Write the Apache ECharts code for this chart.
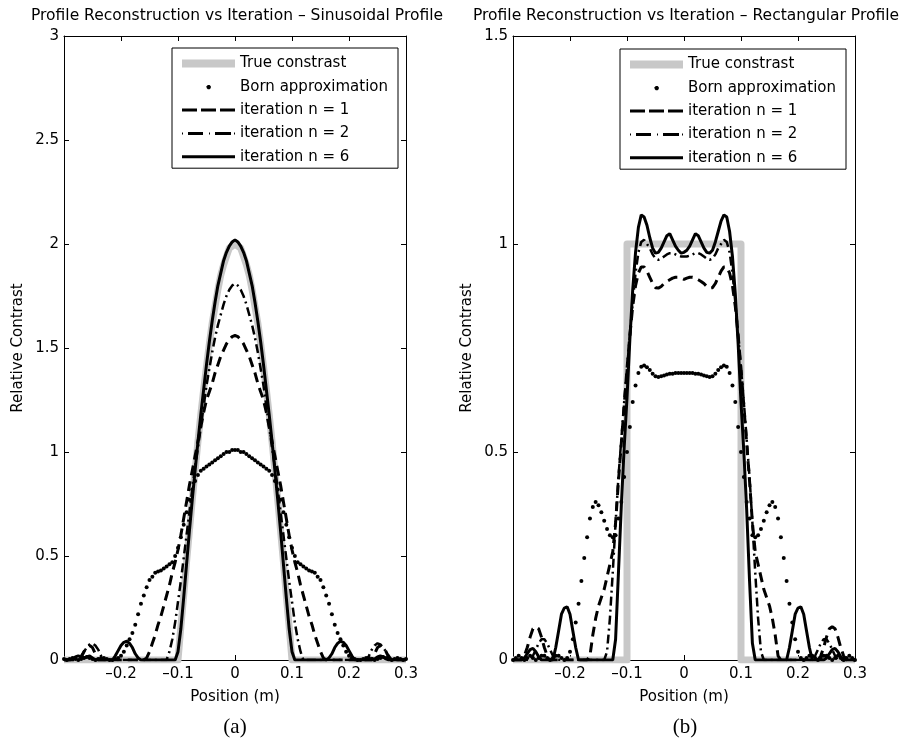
<!DOCTYPE html>
<html>
<head>
<meta charset="utf-8">
<title>Profile Reconstruction vs Iteration</title>
<script src="https://cdn.jsdelivr.net/npm/echarts@6/dist/echarts.min.js"></script>
<style>
  html, body { margin: 0; padding: 0; background: #fff; }
  #chart { width: 912px; height: 748px; }
</style>
</head>
<body>
<div id="chart"></div>
<script>
// sample positions (m): -0.3 ... 0.3, step 0.005
const xPos = Array.from({ length: 121 }, (_, i) => Math.round((-0.3 + i * 0.005) * 1000) / 1000);

// ---- (a) sinusoidal profile ----
const sinTrue = [
  0, 0, 0, 0, 0, 0, 0, 0, 0, 0,
  0, 0, 0, 0, 0, 0, 0, 0, 0, 0,
  0, 0, 0, 0, 0, 0, 0, 0, 0, 0,
  0, 0, 0, 0, 0, 0, 0, 0, 0, 0,
  0, 0.16, 0.31, 0.47, 0.62, 0.77, 0.91, 1.05, 1.18, 1.30,
  1.41, 1.52, 1.62, 1.70, 1.78, 1.85, 1.90, 1.94, 1.98, 1.99,
  2.00, 1.99, 1.98, 1.94, 1.90, 1.85, 1.78, 1.70, 1.62, 1.52,
  1.41, 1.30, 1.18, 1.05, 0.91, 0.77, 0.62, 0.47, 0.31, 0.16,
  0, 0, 0, 0, 0, 0, 0, 0, 0, 0,
  0, 0, 0, 0, 0, 0, 0, 0, 0, 0,
  0, 0, 0, 0, 0, 0, 0, 0, 0, 0,
  0, 0, 0, 0, 0, 0, 0, 0, 0, 0,
  0
];
const sinBorn = [
  0.005, 0, 0.005, 0.01, 0.005, 0, 0.005, 0.01, 0.015, 0.01,
  0.005, 0, 0.005, 0.01, 0.01, 0.005, 0, 0, 0.005, 0.01,
  0.02, 0.04, 0.07, 0.10, 0.13, 0.17, 0.22, 0.27, 0.31, 0.35,
  0.385, 0.40, 0.42, 0.425, 0.43, 0.44, 0.45, 0.46, 0.47, 0.50,
  0.54, 0.59, 0.65, 0.71, 0.77, 0.82, 0.86, 0.89, 0.91, 0.92,
  0.93, 0.94, 0.95, 0.96, 0.97, 0.98, 0.99, 1.00, 1.00, 1.01,
  1.01, 1.01, 1.00, 1.00, 0.99, 0.98, 0.97, 0.96, 0.95, 0.94,
  0.93, 0.92, 0.91, 0.89, 0.86, 0.82, 0.77, 0.71, 0.65, 0.59,
  0.54, 0.50, 0.47, 0.46, 0.45, 0.44, 0.43, 0.425, 0.42, 0.40,
  0.385, 0.35, 0.31, 0.27, 0.22, 0.17, 0.13, 0.10, 0.07, 0.04,
  0.02, 0.01, 0.005, 0, 0, 0.005, 0.01, 0.01, 0.005, 0,
  0.005, 0.01, 0.015, 0.01, 0.005, 0, 0.005, 0.01, 0.005, 0,
  0.005
];
const sinIter1 = [
  0, 0, 0, 0, 0, 0, 0.01, 0.04, 0.06, 0.07,
  0.06, 0.03, 0, 0, 0, 0, 0, 0, 0, 0,
  0, 0, 0, 0, 0, 0, 0, 0, 0, 0.01,
  0.04, 0.08, 0.12, 0.17, 0.21, 0.26, 0.31, 0.36, 0.42, 0.47,
  0.53, 0.60, 0.68, 0.76, 0.84, 0.91, 0.98, 1.05, 1.12, 1.19,
  1.25, 1.29, 1.33, 1.38, 1.42, 1.46, 1.49, 1.52, 1.54, 1.555,
  1.56, 1.555, 1.54, 1.52, 1.49, 1.46, 1.42, 1.38, 1.33, 1.29,
  1.25, 1.19, 1.12, 1.05, 0.98, 0.91, 0.84, 0.76, 0.68, 0.60,
  0.53, 0.47, 0.42, 0.36, 0.31, 0.26, 0.21, 0.17, 0.12, 0.08,
  0.04, 0.01, 0, 0, 0, 0, 0, 0, 0, 0,
  0, 0, 0, 0, 0, 0, 0, 0, 0, 0.03,
  0.06, 0.07, 0.06, 0.04, 0.01, 0, 0, 0, 0, 0,
  0
];
const sinIter2 = [
  0, 0, 0, 0, 0, 0, 0.02, 0.04, 0.06, 0.075,
  0.08, 0.07, 0.05, 0.02, 0, 0, 0, 0, 0, 0,
  0, 0, 0, 0, 0, 0, 0, 0, 0, 0,
  0, 0, 0, 0, 0, 0, 0, 0.04, 0.10, 0.18,
  0.28, 0.38, 0.49, 0.60, 0.71, 0.82, 0.93, 1.02, 1.12, 1.22,
  1.32, 1.40, 1.48, 1.55, 1.61, 1.66, 1.71, 1.75, 1.78, 1.80,
  1.81, 1.80, 1.78, 1.75, 1.71, 1.66, 1.61, 1.55, 1.48, 1.40,
  1.32, 1.22, 1.12, 1.02, 0.93, 0.82, 0.71, 0.60, 0.49, 0.38,
  0.28, 0.18, 0.10, 0.04, 0, 0, 0, 0, 0, 0,
  0, 0, 0, 0, 0, 0, 0, 0, 0, 0,
  0, 0, 0, 0, 0, 0, 0, 0.02, 0.05, 0.07,
  0.08, 0.075, 0.06, 0.04, 0.02, 0, 0, 0, 0, 0,
  0
];
const sinIter6 = [
  0, 0, 0, 0.005, 0.015, 0.02, 0.015, 0.01, 0.015, 0.02,
  0.01, 0, 0, 0, 0, 0, 0, 0, 0.02, 0.045,
  0.07, 0.085, 0.09, 0.08, 0.06, 0.03, 0.01, 0, 0, 0,
  0, 0, 0, 0, 0, 0, 0, 0, 0, 0,
  0.04, 0.15, 0.30, 0.46, 0.62, 0.77, 0.91, 1.05, 1.18, 1.30,
  1.42, 1.53, 1.63, 1.72, 1.80, 1.86, 1.92, 1.96, 1.99, 2.01,
  2.02, 2.01, 1.99, 1.96, 1.92, 1.86, 1.80, 1.72, 1.63, 1.53,
  1.42, 1.30, 1.18, 1.05, 0.91, 0.77, 0.62, 0.46, 0.30, 0.15,
  0.04, 0, 0, 0, 0, 0, 0, 0, 0, 0,
  0, 0, 0, 0.01, 0.03, 0.06, 0.08, 0.09, 0.085, 0.07,
  0.045, 0.02, 0, 0, 0, 0, 0, 0, 0, 0.005,
  0.015, 0.02, 0.015, 0.005, 0, 0, 0, 0, 0, 0,
  0
];

// ---- (b) rectangular profile ----
const rectTrueX = [-0.3, -0.1, -0.1, 0.1, 0.1, 0.3];
const rectTrueY = [0, 0, 1, 1, 0, 0];
const rectBorn = [
  0, 0.005, 0.01, 0.005, 0, 0.005, 0.01, 0.005, 0, 0.005,
  0.01, 0.01, 0.005, 0, 0.005, 0.01, 0.01, 0.005, 0, 0.005,
  0.02, 0.05, 0.09, 0.135, 0.19, 0.245, 0.295, 0.34, 0.368, 0.38,
  0.372, 0.355, 0.335, 0.315, 0.30, 0.295, 0.30, 0.34, 0.38, 0.44,
  0.50, 0.56, 0.62, 0.66, 0.69, 0.705, 0.708, 0.704, 0.697, 0.688,
  0.682, 0.68, 0.682, 0.684, 0.686, 0.688, 0.688, 0.69, 0.69, 0.69,
  0.69, 0.69, 0.69, 0.69, 0.688, 0.688, 0.686, 0.684, 0.682, 0.68,
  0.682, 0.688, 0.697, 0.704, 0.708, 0.705, 0.69, 0.66, 0.62, 0.56,
  0.50, 0.44, 0.38, 0.34, 0.30, 0.295, 0.30, 0.315, 0.335, 0.355,
  0.372, 0.38, 0.368, 0.34, 0.295, 0.245, 0.19, 0.135, 0.09, 0.05,
  0.02, 0.005, 0, 0.005, 0.01, 0.01, 0.005, 0, 0.005, 0.01,
  0.01, 0.005, 0, 0.005, 0.01, 0.005, 0, 0.005, 0.01, 0.005,
  0
];
const rectIter1 = [
  0, 0, 0, 0, 0.01, 0.03, 0.055, 0.075, 0.08, 0.075,
  0.055, 0.03, 0.01, 0, 0, 0, 0, 0, 0, 0,
  0, 0, 0, 0, 0, 0, 0, 0.01, 0.06, 0.10,
  0.13, 0.15, 0.17, 0.20, 0.23, 0.26, 0.33, 0.43, 0.52, 0.61,
  0.70, 0.78, 0.85, 0.90, 0.93, 0.945, 0.945, 0.935, 0.92, 0.905,
  0.895, 0.894, 0.898, 0.905, 0.91, 0.914, 0.918, 0.92, 0.92, 0.918,
  0.915, 0.918, 0.92, 0.92, 0.918, 0.914, 0.91, 0.905, 0.898, 0.894,
  0.895, 0.905, 0.92, 0.935, 0.945, 0.945, 0.93, 0.90, 0.85, 0.78,
  0.70, 0.61, 0.52, 0.43, 0.33, 0.26, 0.23, 0.20, 0.17, 0.15,
  0.13, 0.10, 0.06, 0.01, 0, 0, 0, 0, 0, 0,
  0, 0, 0, 0, 0, 0, 0, 0, 0.01, 0.03,
  0.055, 0.075, 0.08, 0.075, 0.055, 0.03, 0.01, 0, 0, 0,
  0
];
const rectIter2 = [
  0, 0, 0, 0, 0, 0, 0, 0.01, 0.025, 0.04,
  0.05, 0.05, 0.04, 0.025, 0.01, 0, 0, 0, 0, 0,
  0, 0, 0, 0, 0, 0, 0, 0, 0, 0,
  0, 0, 0, 0.02, 0.10, 0.21, 0.33, 0.44, 0.53, 0.62,
  0.70, 0.78, 0.86, 0.93, 0.98, 1.005, 1.01, 1.0, 0.99, 0.975,
  0.965, 0.962, 0.965, 0.97, 0.975, 0.978, 0.978, 0.975, 0.972, 0.97,
  0.97, 0.97, 0.972, 0.975, 0.978, 0.978, 0.975, 0.97, 0.965, 0.962,
  0.965, 0.975, 0.99, 1.0, 1.01, 1.005, 0.98, 0.93, 0.86, 0.78,
  0.70, 0.62, 0.53, 0.44, 0.33, 0.21, 0.10, 0.02, 0, 0,
  0, 0, 0, 0, 0, 0, 0, 0, 0, 0,
  0, 0, 0, 0, 0, 0, 0.01, 0.025, 0.04, 0.05,
  0.05, 0.04, 0.025, 0.01, 0, 0, 0, 0, 0, 0,
  0
];
const rectIter6 = [
  0, 0, 0, 0, 0.005, 0.015, 0.025, 0.028, 0.02, 0.008,
  0, 0, 0, 0, 0, 0.03, 0.07, 0.11, 0.125, 0.128,
  0.11, 0.07, 0.03, 0, 0, 0, 0, 0, 0, 0,
  0, 0, 0, 0, 0, 0, 0.05, 0.21, 0.37, 0.51,
  0.63, 0.77, 0.89, 0.98, 1.04, 1.07, 1.065, 1.045, 1.015, 0.99,
  0.978, 0.98, 0.99, 1.005, 1.02, 1.025, 1.01, 0.995, 0.985, 0.978,
  0.98, 0.985, 0.995, 1.01, 1.025, 1.02, 1.005, 0.99, 0.98, 0.978,
  0.985, 1.005, 1.03, 1.055, 1.07, 1.065, 1.03, 0.97, 0.88, 0.76,
  0.62, 0.50, 0.36, 0.19, 0.04, 0, 0, 0, 0, 0,
  0, 0, 0, 0, 0, 0, 0, 0.03, 0.07, 0.11,
  0.125, 0.128, 0.11, 0.07, 0.03, 0, 0, 0, 0, 0,
  0.005, 0.015, 0.025, 0.028, 0.02, 0.008, 0, 0, 0, 0,
  0
];

const legendNames = ['True constrast', 'Born approximation', 'iteration n = 1', 'iteration n = 2', 'iteration n = 6'];
const titles = [
  'Profile Reconstruction vs Iteration \u2013 Sinusoidal Profile',
  'Profile Reconstruction vs Iteration \u2013 Rectangular Profile'
];
const panelTags = ['(a)', '(b)'];

const FONT = "'DejaVu Sans', sans-serif";
const GRAY = '#c8c8c8';

// legend glyphs drawn in a 53 x 14 box (corner points fix the box size)
const BOX = 'M0,0L0,0M53,14L53,14';
const legendIcons = [
  'path://' + BOX + 'M0,3L53,3L53,11L0,11Z',
  'path://' + BOX + 'M25.8,5.3L27.6,5.3L28.8,6.5L28.8,8.3L27.6,9.5L25.8,9.5L24.6,8.3L24.6,6.5Z',
  'path://' + BOX + 'M0,5.5L15,5.5L15,8.5L0,8.5ZM19,5.5L34,5.5L34,8.5L19,8.5ZM38,5.5L53,5.5L53,8.5L38,8.5Z',
  'path://' + BOX + 'M0,6L1,6L1,8L0,8ZM6,5.5L21,5.5L21,8.5L6,8.5ZM27,6L28,6L28,8L27,8ZM33,5.5L49,5.5L49,8.5L33,8.5ZM52,6L53,6L53,8L52,8Z',
  'path://' + BOX + 'M0,5.5L53,5.5L53,8.5L0,8.5Z'
];

function toPairs(ys) {
  return xPos.map((x, i) => [x, ys[i]]);
}

function fmtX(v) {
  if (Math.abs(v + 0.3) < 1e-9) return '';
  const s = String(+Math.abs(v).toFixed(1));
  return v < -1e-9 ? '\u2013' + s : s;
}

const axisBase = {
  type: 'value',
  splitLine: { show: false },
  axisLine: { onZero: false, lineStyle: { color: '#000', width: 1 } },
  axisTick: { inside: true, length: 5, lineStyle: { color: '#000', width: 1 } }
};
const labelStyle = { color: '#000', fontSize: 15, fontFamily: FONT };

function xAxesFor(gridIndex) {
  const common = { ...axisBase, gridIndex, min: -0.3, max: 0.3, interval: 0.1 };
  return [
    {
      ...common, position: 'bottom',
      name: 'Position (m)', nameLocation: 'middle', nameGap: 30, nameTextStyle: labelStyle,
      axisLabel: { ...labelStyle, margin: 7, formatter: fmtX }
    },
    { ...common, position: 'top', axisLabel: { show: false } }
  ];
}

function yAxesFor(gridIndex, yMax) {
  const common = { ...axisBase, gridIndex, min: 0, max: yMax, interval: 0.5 };
  return [
    {
      ...common, position: 'left',
      name: 'Relative Contrast', nameLocation: 'middle', nameGap: 38, nameRotate: 90, nameTextStyle: labelStyle,
      axisLabel: { ...labelStyle, margin: 5 }
    },
    { ...common, position: 'right', axisLabel: { show: false } }
  ];
}

function seriesFor(axisIdx, trueData, born, it1, it2, it6) {
  const base = { xAxisIndex: axisIdx, yAxisIndex: axisIdx, silent: true, animation: false };
  const lineBase = { ...base, type: 'line', symbol: 'none', showSymbol: false, smooth: false };
  return [
    { ...lineBase, name: legendNames[0], data: trueData, z: 1,
      itemStyle: { color: GRAY }, lineStyle: { color: GRAY, width: 7, join: 'round' } },
    { ...base, name: legendNames[1], type: 'scatter', data: toPairs(born), symbol: 'circle', symbolSize: 4,
      clip: false, z: 2, itemStyle: { color: '#000', opacity: 1 } },
    { ...lineBase, name: legendNames[2], data: toPairs(it1), z: 3,
      itemStyle: { color: '#000' }, lineStyle: { color: '#000', width: 3, type: [10, 6] } },
    { ...lineBase, name: legendNames[3], data: toPairs(it2), z: 4,
      itemStyle: { color: '#000' }, lineStyle: { color: '#000', width: 2.5, type: [9, 4, 2, 4] } },
    { ...lineBase, name: legendNames[4], data: toPairs(it6), z: 5,
      itemStyle: { color: '#000' }, lineStyle: { color: '#000', width: 3 } }
  ];
}

function legendAt(left, top) {
  return {
    left, top, orient: 'vertical', align: 'left', selectedMode: false,
    padding: [8, 10, 4, 10], itemWidth: 53, itemHeight: 14, itemGap: 8.3,
    symbolKeepAspect: true,
    backgroundColor: '#fff', borderColor: '#000', borderWidth: 1, borderRadius: 0,
    itemStyle: { borderWidth: 0, opacity: 1 },
    textStyle: { color: '#000', fontSize: 15, fontFamily: FONT, lineHeight: 14 },
    data: legendNames.map((name, i) => ({ name, icon: legendIcons[i] }))
  };
}

function textAt(x, y, text, font) {
  return {
    type: 'text', x, y, silent: true,
    style: { text, font, fill: '#000', align: 'center', verticalAlign: 'middle',
      textAlign: 'center', textVerticalAlign: 'middle' }
  };
}

const chart = echarts.init(document.getElementById('chart'), null, { renderer: 'canvas' });
chart.setOption({
  backgroundColor: '#fff',
  animation: false,
  grid: [
    { left: 64, right: 506, top: 36, bottom: 88, outerBoundsMode: 'none' },
    { left: 513, right: 57, top: 36, bottom: 88, outerBoundsMode: 'none' }
  ],
  xAxis: [...xAxesFor(0), ...xAxesFor(1)],
  yAxis: [...yAxesFor(0, 3), ...yAxesFor(1, 1.5)],
  legend: [legendAt(172, 48), legendAt(620, 49)],
  graphic: [
    textAt(237, 16, titles[0], "15.5px 'DejaVu Sans'"),
    textAt(686, 16, titles[1], "15.5px 'DejaVu Sans'"),
    textAt(235, 727, panelTags[0], "21px 'Liberation Serif'"),
    textAt(685, 727, panelTags[1], "21px 'Liberation Serif'")
  ],
  series: [
    ...seriesFor(0, toPairs(sinTrue), sinBorn, sinIter1, sinIter2, sinIter6),
    ...seriesFor(2, rectTrueX.map((x, i) => [x, rectTrueY[i]]), rectBorn, rectIter1, rectIter2, rectIter6)
  ]
});
</script>
</body>
</html>
